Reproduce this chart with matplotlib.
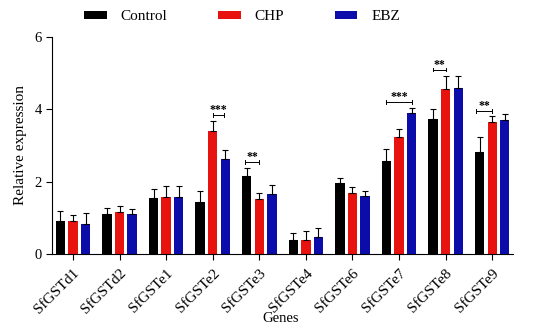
import numpy as np
import matplotlib.pyplot as plt
from matplotlib.patches import Patch

plt.rcParams['font.family'] = ['Liberation Serif', 'DejaVu Serif']

genes = ['SfGSTd1', 'SfGSTd2', 'SfGSTe1', 'SfGSTe2', 'SfGSTe3',
         'SfGSTe4', 'SfGSTe6', 'SfGSTe7', 'SfGSTe8', 'SfGSTe9']
groups = ['Control', 'CHP', 'EBZ']

control = [0.91, 1.10, 1.55, 1.44, 2.16, 0.39, 1.96, 2.57, 3.72, 2.82]
control_err = [0.28, 0.17, 0.24, 0.30, 0.23, 0.18, 0.14, 0.33, 0.30, 0.41]
chp = [0.91, 1.16, 1.58, 3.40, 1.52, 0.40, 1.70, 3.23, 4.55, 3.64]
chp_err = [0.17, 0.17, 0.29, 0.27, 0.16, 0.23, 0.16, 0.22, 0.38, 0.17]
ebz = [0.83, 1.10, 1.58, 2.63, 1.65, 0.47, 1.61, 3.90, 4.59, 3.70]
ebz_err = [0.30, 0.14, 0.29, 0.24, 0.26, 0.26, 0.14, 0.13, 0.34, 0.16]

colors = ['#000000', '#E8130F', '#0C0CAA']

# significance marks: gene index, bracket start/end offsets, height, label
sig_gene = [3, 4, 7, 8, 9]
sig_x0 = [0.0, -0.30, -0.28, -0.27, -0.35]
sig_x1 = [0.25, 0.0, 0.28, 0.0, 0.0]
sig_y = [3.84, 2.54, 4.20, 5.10, 3.95]
sig_text = ['***', '**', '***', '**', '**']

fig = plt.figure(figsize=(5.5, 3.36), dpi=100)
ax = fig.add_axes([0.0945, 0.244, 0.8385, 0.646])

x = np.arange(len(genes))
w = 0.2
off = 0.27
for k, (vals, errs) in enumerate([(control, control_err), (chp, chp_err), (ebz, ebz_err)]):
    pos = x + (k - 1) * off
    ax.bar(pos, vals, width=w, color=colors[k], edgecolor='none', zorder=2)
    ax.errorbar(pos, vals, yerr=[np.zeros(len(errs)), errs], fmt='none',
                ecolor='black', elinewidth=0.8, capsize=2.2, capthick=0.8, zorder=3)

for g, a, b, y, t in zip(sig_gene, sig_x0, sig_x1, sig_y, sig_text):
    ax.plot([g + a, g + b], [y, y], color='black', lw=0.7)
    ax.plot([g + a, g + a], [y - 0.05, y + 0.05], color='black', lw=0.7)
    ax.plot([g + b, g + b], [y - 0.05, y + 0.05], color='black', lw=0.7)
    ax.text(g + (a + b) / 2, y - 0.03, t, ha='center', va='bottom', fontsize=8.5,
            fontweight='bold')

ax.set_xlim(-0.45, 9.45)
ax.set_ylim(0, 6)
ax.set_yticks([0, 2, 4, 6])
ax.set_xticks(x)
ax.set_xticklabels(genes, rotation=45, ha='right', rotation_mode='anchor', fontsize=11)
ax.tick_params(axis='y', labelsize=10.5, length=4, width=0.8)
ax.tick_params(axis='x', length=4, width=0.8, pad=5)
for s in ['top', 'right']:
    ax.spines[s].set_visible(False)
ax.spines['left'].set_linewidth(0.8)
ax.spines['bottom'].set_linewidth(0.8)
ax.set_ylabel('Relative expression', fontsize=11, labelpad=5)
ax.set_xlabel('Genes', fontsize=10.5)
ax.xaxis.set_label_coords(0.495, -0.265)

handles = [Patch(facecolor=c, edgecolor='none') for c in colors]
fig.legend(handles, groups, loc='upper center', bbox_to_anchor=(0.44, 1.01), ncol=3,
           frameon=False, fontsize=11, handlelength=1.5, handleheight=0.45,
           handletextpad=0.9, columnspacing=3.3)

fig.savefig('out.png', dpi=100)
